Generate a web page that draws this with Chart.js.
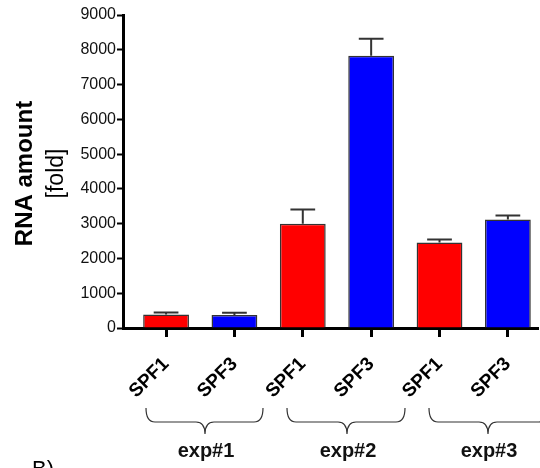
<!DOCTYPE html>
<html>
<head>
<meta charset="utf-8">
<script src="https://cdn.jsdelivr.net/npm/chart.js@4.4.1/dist/chart.umd.min.js"></script>
<style>
  html, body { margin: 0; padding: 0; background: #fff; overflow: hidden; }
  #wrap { width: 540px; height: 468px; }
</style>
</head>
<body>
<div id="wrap"><canvas id="c" width="540" height="468"></canvas></div>
<script>
// ---- data ----
const categories = ['SPF1', 'SPF3', 'SPF1', 'SPF3', 'SPF1', 'SPF3'];
const values = [385, 375, 3000, 7830, 2460, 3120];
const errors = [60, 65, 410, 490, 85, 115];
const groups = ['exp#1', 'exp#2', 'exp#3'];
const yTickValues = [0, 1000, 2000, 3000, 4000, 5000, 6000, 7000, 8000, 9000];
const barColors = ['#ff0000', '#0000ff', '#ff0000', '#0000ff', '#ff0000', '#0000ff'];

const FONT = "'Liberation Sans', Arial, sans-serif";

// error bars (upper only)
const errorBarPlugin = {
  id: 'errorBars',
  afterDatasetsDraw(chart) {
    const ctx = chart.ctx;
    const meta = chart.getDatasetMeta(0);
    const y = chart.scales.y;
    ctx.save();
    ctx.strokeStyle = '#333';
    ctx.lineWidth = 2;
    meta.data.forEach((bar, i) => {
      const top = y.getPixelForValue(values[i]);
      const capY = y.getPixelForValue(values[i] + errors[i]);
      const half = bar.width * 0.27;
      ctx.beginPath();
      ctx.moveTo(bar.x, top);
      ctx.lineTo(bar.x, capY);
      ctx.moveTo(bar.x - half, capY);
      ctx.lineTo(bar.x + half, capY);
      ctx.stroke();
    });
    ctx.restore();
  }
};

// axis title, group braces, panel letter
const annotPlugin = {
  id: 'annot',
  afterDraw(chart) {
    const ctx = chart.ctx;
    const area = chart.chartArea;
    const cy = (area.top + area.bottom) / 2 + 2;
    ctx.save();
    ctx.fillStyle = '#000';
    ctx.textAlign = 'center';
    ctx.textBaseline = 'middle';
    ctx.translate(25, cy);
    ctx.rotate(-Math.PI / 2);
    ctx.font = 'bold 24px ' + FONT;
    ctx.fillText('RNA amount', 0, 0);
    ctx.font = '23px ' + FONT;
    ctx.fillText('[fold]', 0, 32);
    ctx.restore();

    // braces
    const braces = [[146, 263, 205], [287, 405, 347], [429, 547, 488]];
    ctx.save();
    ctx.strokeStyle = '#333';
    ctx.lineWidth = 1.2;
    const yTop = 408, yMid = 422, yTip = 434, r = 9;
    braces.forEach(([x1, x2, cx], g) => {
      ctx.beginPath();
      ctx.moveTo(x1, yTop);
      ctx.quadraticCurveTo(x1, yMid, x1 + r, yMid);
      ctx.lineTo(cx - r, yMid);
      ctx.quadraticCurveTo(cx, yMid, cx, yTip);
      ctx.quadraticCurveTo(cx, yMid, cx + r, yMid);
      ctx.lineTo(x2 - r, yMid);
      ctx.quadraticCurveTo(x2, yMid, x2, yTop);
      ctx.stroke();
      ctx.fillStyle = '#111';
      ctx.font = 'bold 20px ' + FONT;
      ctx.textAlign = 'center';
      ctx.textBaseline = 'alphabetic';
      ctx.fillText(groups[g], cx + 1, 457);
    });
    ctx.restore();

    ctx.save();
    ctx.fillStyle = '#000';
    ctx.font = '22px ' + FONT;
    ctx.textAlign = 'left';
    ctx.textBaseline = 'alphabetic';
    ctx.fillText('B)', 32, 476);
    ctx.restore();
  }
};

new Chart(document.getElementById('c'), {
  type: 'bar',
  data: {
    datasets: [{
      data: values.map((v, i) => ({ x: i, y: v })),
      backgroundColor: barColors,
      borderColor: '#333',
      borderWidth: 1.5,
      borderSkipped: 'start',
      categoryPercentage: 1,
      barPercentage: 0.67
    }]
  },
  options: {
    responsive: false,
    animation: false,
    layout: { padding: { top: 15, right: 0, left: 0, bottom: 0 } },
    plugins: { legend: { display: false }, tooltip: { enabled: false } },
    scales: {
      x: {
        type: 'linear',
        offset: false,
        min: -0.63,
        max: 5.45,
        afterBuildTicks(scale) { scale.ticks = categories.map((_, i) => ({ value: i })); },
        afterFit(scale) { scale.height = 140; },
        border: { display: true, color: '#000', width: 3 },
        grid: { display: true, offset: false, drawOnChartArea: false, drawTicks: true, tickLength: 9, tickWidth: 3, tickColor: '#000' },
        ticks: {
          autoSkip: false,
          minRotation: 45,
          maxRotation: 45,
          padding: 16,
          color: '#000',
          font: { family: FONT, size: 19, weight: 'bold' },
          callback: (v) => categories[v] ?? ''
        }
      },
      y: {
        min: 0,
        max: 9000,
        afterBuildTicks(scale) { scale.ticks = yTickValues.map(v => ({ value: v })); },
        afterFit(scale) { scale.width = 123; },
        border: { display: true, color: '#000', width: 3 },
        grid: { display: true, drawOnChartArea: false, drawTicks: true, tickLength: 6, tickWidth: 2, tickColor: '#000' },
        ticks: {
          padding: 1,
          color: '#111',
          font: { family: FONT, size: 16 },
          callback: (v) => String(v)
        }
      }
    }
  },
  plugins: [errorBarPlugin, annotPlugin]
});
</script>
</body>
</html>
